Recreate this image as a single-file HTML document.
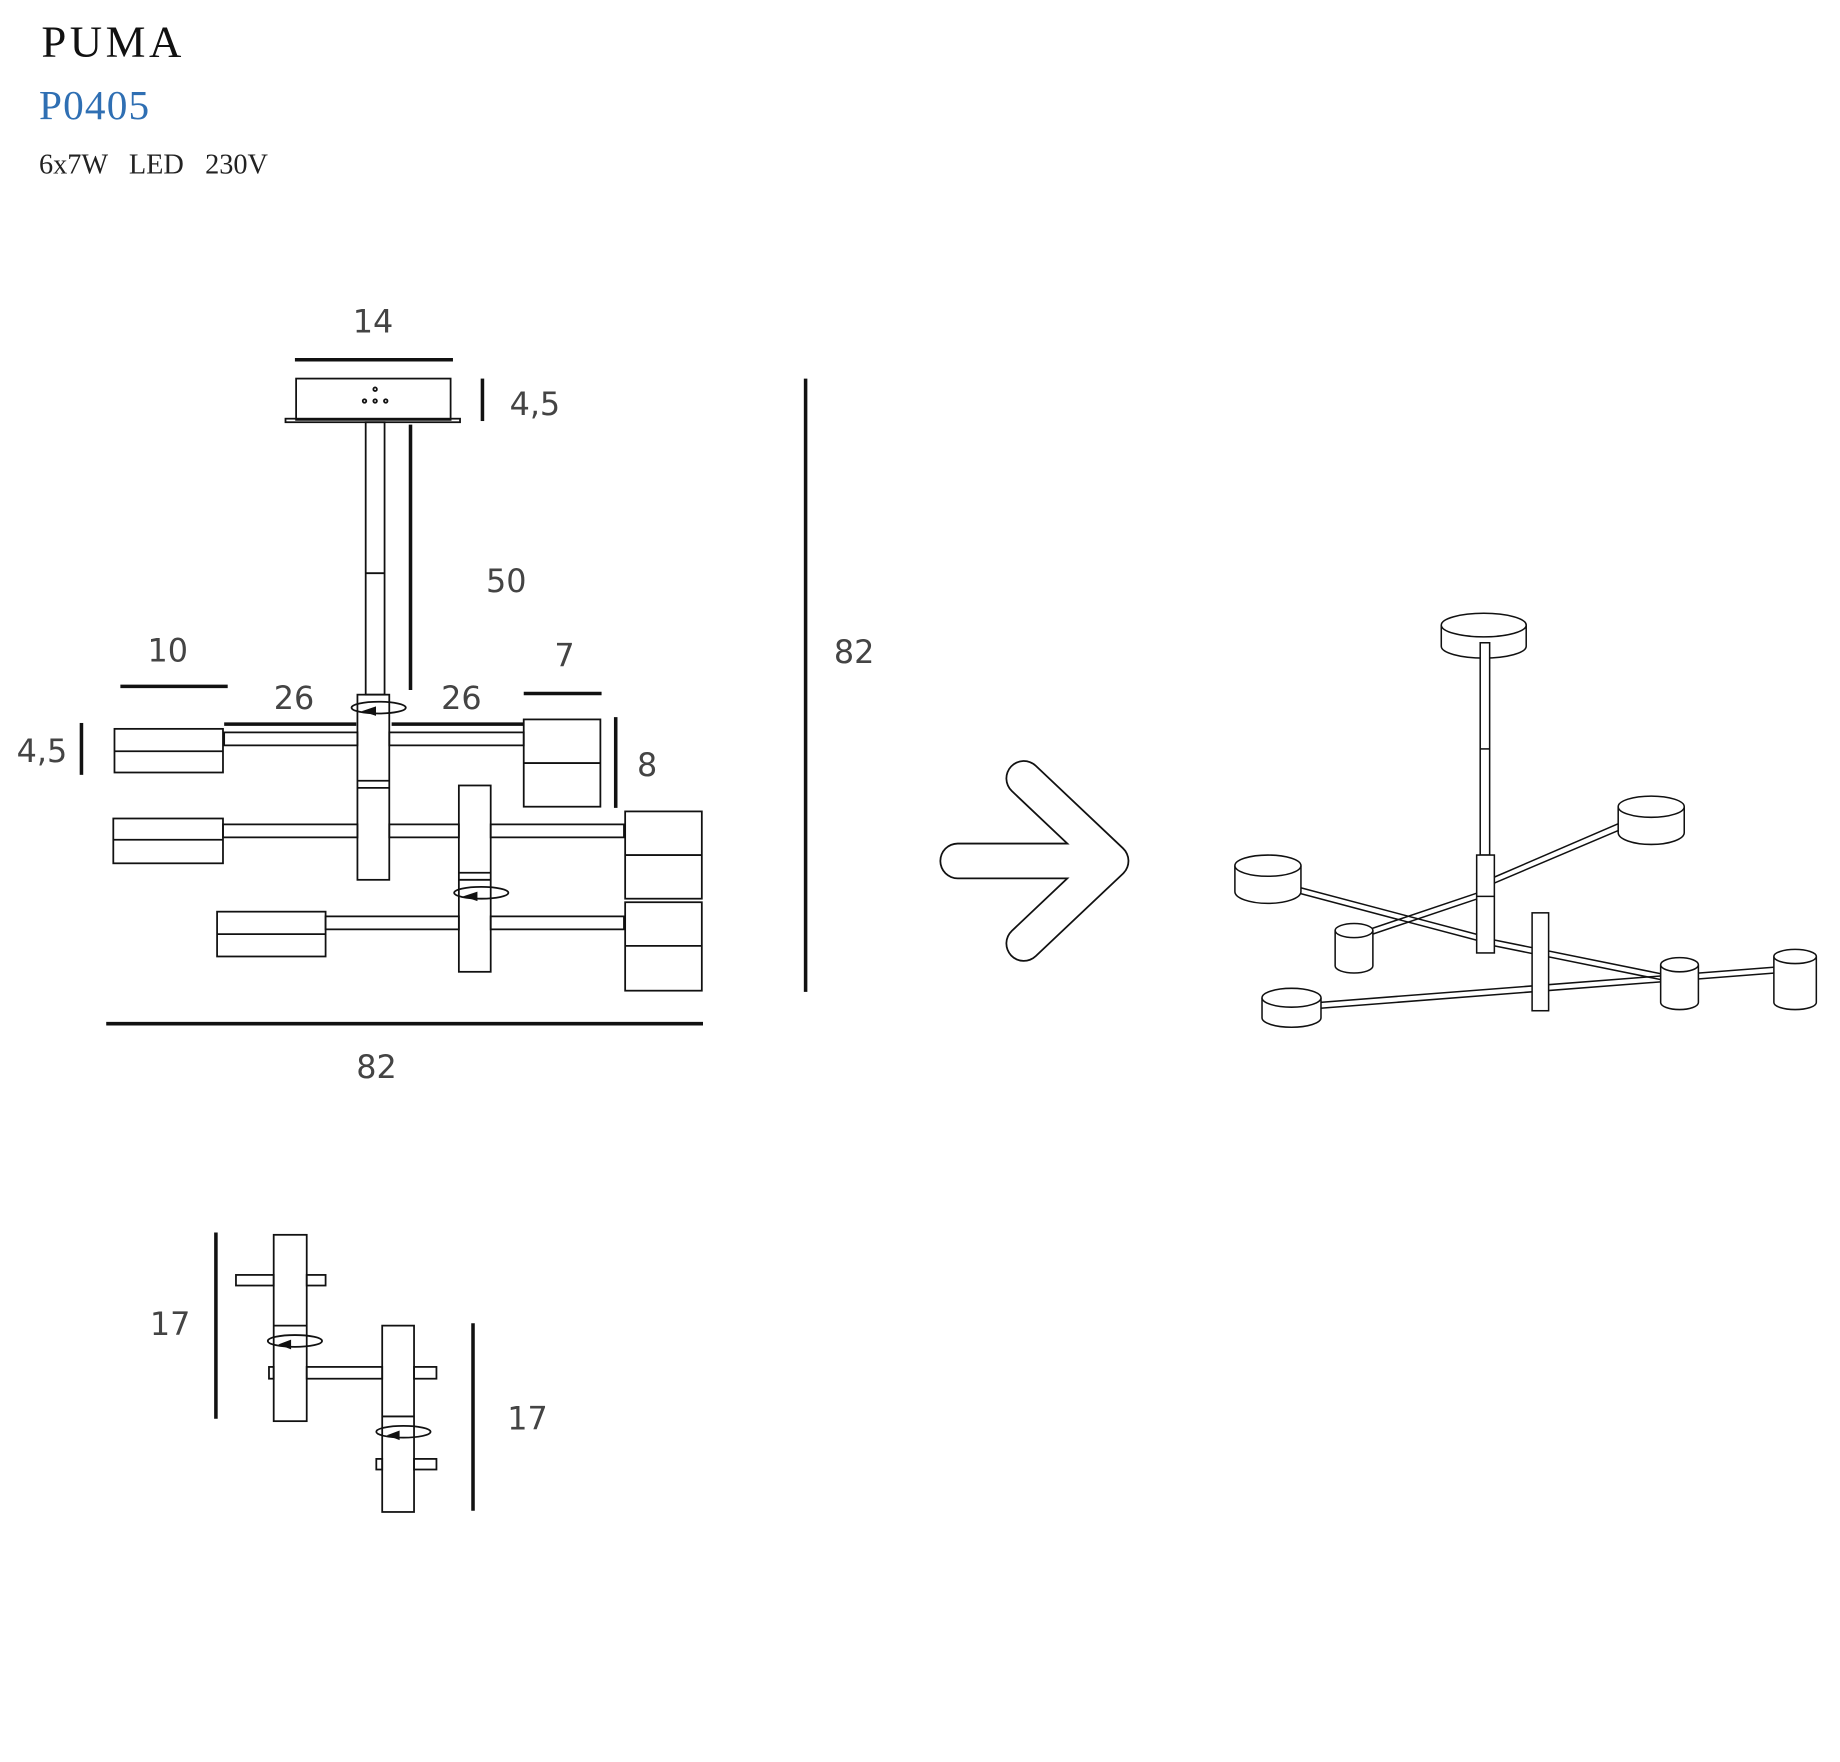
<!DOCTYPE html>
<html><head><meta charset="utf-8"><style>
html,body{margin:0;padding:0;background:#fff}
svg{display:block}
.d{font-family:"DejaVu Sans","Liberation Sans",sans-serif;font-size:27px;fill:#444}
</style></head><body>
<svg width="1840" height="1762" viewBox="0 0 1560 1494" xmlns="http://www.w3.org/2000/svg">
<rect width="1560" height="1494" fill="#fff"/>
<text x="35" y="48" font-family="Liberation Serif,serif" font-size="38" fill="#111" letter-spacing="3">PUMA</text>
<text x="33" y="101" font-family="Liberation Serif,serif" font-size="35" fill="#2f6fb3" letter-spacing="1">P0405</text>
<text x="33" y="147" font-family="Liberation Serif,serif" font-size="24" fill="#222" xml:space="preserve" style="white-space:pre">6x7W   LED   230V</text>

<g fill="none" stroke="#111" stroke-width="1.5">
<g stroke-width="3">
<line x1="250" y1="305" x2="384" y2="305"/>
<line x1="409" y1="321" x2="409" y2="357"/>
<line x1="348" y1="360" x2="348" y2="585"/>
<line x1="683" y1="321" x2="683" y2="841"/>
<line x1="102" y1="582" x2="193" y2="582"/>
<line x1="190" y1="614" x2="302" y2="614"/>
<line x1="332" y1="614" x2="444" y2="614"/>
<line x1="444" y1="588" x2="510" y2="588"/>
<line x1="69" y1="613" x2="69" y2="657"/>
<line x1="522" y1="608" x2="522" y2="685"/>
<line x1="90" y1="868" x2="596" y2="868"/>
<line x1="183" y1="1045" x2="183" y2="1203"/>
<line x1="401" y1="1122" x2="401" y2="1281"/>
</g>
<rect x="251" y="321" width="131" height="35"/>
<rect x="242" y="355" width="148" height="3"/>
<circle cx="318" cy="330" r="1.5"/><circle cx="309" cy="340" r="1.5"/><circle cx="318" cy="340" r="1.5"/><circle cx="327" cy="340" r="1.5"/>
<rect x="310" y="358" width="16" height="231"/>
<line x1="310" y1="486" x2="326" y2="486"/>
<rect x="303" y="589" width="27" height="157"/>
<line x1="303" y1="662" x2="330" y2="662"/><line x1="303" y1="668" x2="330" y2="668"/>
<ellipse cx="321" cy="600" rx="23" ry="5"/>
<polygon points="309,603 318,600 318,606" fill="#111"/>
<rect x="97" y="618" width="92" height="37"/><line x1="97" y1="637" x2="189" y2="637"/>
<rect x="190" y="621" width="113" height="11"/>
<rect x="330" y="621" width="114" height="11"/>
<rect x="444" y="610" width="65" height="74"/><line x1="444" y1="647" x2="509" y2="647"/>
<rect x="96" y="694" width="93" height="38"/><line x1="96" y1="712" x2="189" y2="712"/>
<rect x="189" y="699" width="114" height="11"/>
<rect x="330" y="699" width="59" height="11"/>
<rect x="389" y="666" width="27" height="158"/>
<line x1="389" y1="740" x2="416" y2="740"/><line x1="389" y1="746" x2="416" y2="746"/>
<ellipse cx="408" cy="757" rx="23" ry="5"/>
<polygon points="395,760 404,757 404,763" fill="#111"/>
<rect x="416" y="699" width="113" height="11"/>
<rect x="530" y="688" width="65" height="74"/><line x1="530" y1="725" x2="595" y2="725"/>
<rect x="184" y="773" width="92" height="38"/><line x1="184" y1="792" x2="276" y2="792"/>
<rect x="276" y="777" width="113" height="11"/>
<rect x="416" y="777" width="113" height="11"/>
<rect x="530" y="765" width="65" height="75"/><line x1="530" y1="802" x2="595" y2="802"/>

<rect x="232" y="1047" width="28" height="158"/>
<line x1="232" y1="1124" x2="260" y2="1124"/>
<rect x="200" y="1081" width="32" height="9"/>
<rect x="260" y="1081" width="16" height="9"/>
<ellipse cx="250" cy="1137" rx="23" ry="5"/>
<polygon points="238,1140 246,1137 246,1143" fill="#111"/>
<rect x="260" y="1159" width="64" height="10"/>
<rect x="228" y="1159" width="4" height="10"/>
<rect x="324" y="1124" width="27" height="158"/>
<line x1="324" y1="1201" x2="351" y2="1201"/>
<rect x="351" y="1159" width="19" height="10"/>
<rect x="351" y="1237" width="19" height="9"/>
<rect x="319" y="1237" width="5" height="9"/>
<ellipse cx="342" cy="1214" rx="23" ry="5"/>
<polygon points="330,1217 338,1214 338,1220" fill="#111"/>
</g>

<text class="d" x="299" y="282">14</text>
<text class="d" x="432" y="352">4,5</text>
<text class="d" x="412" y="502">50</text>
<text class="d" x="707" y="562">82</text>
<text class="d" x="125" y="561">10</text>
<text class="d" x="232" y="601">26</text>
<text class="d" x="374" y="601">26</text>
<text class="d" x="470" y="565">7</text>
<text class="d" x="14" y="646">4,5</text>
<text class="d" x="540" y="658">8</text>
<text class="d" x="302" y="914">82</text>
<text class="d" x="127" y="1132">17</text>
<text class="d" x="430" y="1212">17</text>

<g fill="none" stroke-linecap="round" stroke-linejoin="round">
<g stroke="#111" stroke-width="31"><polyline points="868,660 942,730 868,800"/><line x1="812" y1="730" x2="920" y2="730"/></g>
<g stroke="#fff" stroke-width="28"><polyline points="868,660 942,730 868,800"/><line x1="812" y1="730" x2="920" y2="730"/></g>
</g>

<g fill="#fff" stroke="#111" stroke-width="1.3">
<path d="M1222,530 v18 a36,10 0 0 0 72,0 v-18"/><ellipse cx="1258" cy="530" rx="36" ry="10"/>
<rect x="1255" y="545" width="8" height="180"/><line x1="1255" y1="635" x2="1263" y2="635"/>
<line x1="1264" y1="745" x2="1380" y2="695"/><line x1="1264" y1="750" x2="1382" y2="700"/>
<line x1="1100" y1="752" x2="1255" y2="793"/><line x1="1100" y1="757" x2="1255" y2="798"/>
<line x1="1155" y1="790" x2="1253" y2="757"/><line x1="1155" y1="795" x2="1253" y2="762"/>
<line x1="1267" y1="797" x2="1415" y2="827"/><line x1="1267" y1="802" x2="1415" y2="832"/>
<rect x="1252" y="725" width="15" height="83"/>
<line x1="1252" y1="760" x2="1267" y2="760"/>
<path d="M1372,684 v22 a28,10 0 0 0 56,0 v-22"/><ellipse cx="1400" cy="684" rx="28" ry="9"/>
<path d="M1047,734 v22 a28,10 0 0 0 56,0 v-22"/><ellipse cx="1075" cy="734" rx="28" ry="9"/>
<path d="M1132,789 v30 a16,6 0 0 0 32,0 v-30"/><ellipse cx="1148" cy="789" rx="16" ry="6"/>
<line x1="1118" y1="850" x2="1505" y2="820"/><line x1="1118" y1="855" x2="1505" y2="825"/>
<rect x="1299" y="774" width="14" height="83"/>
<path d="M1070,846 v17 a25,8 0 0 0 50,0 v-17"/><ellipse cx="1095" cy="846" rx="25" ry="8"/>
<path d="M1408,818 v32 a16,6 0 0 0 32,0 v-32"/><ellipse cx="1424" cy="818" rx="16" ry="6"/>
<path d="M1504,811 v39 a18,6 0 0 0 36,0 v-39"/><ellipse cx="1522" cy="811" rx="18" ry="6"/>
</g>
</svg>
</body></html>
